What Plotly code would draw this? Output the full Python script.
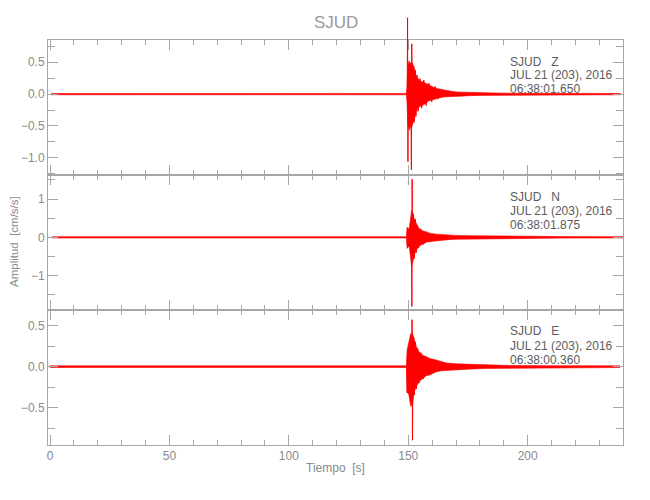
import plotly.graph_objects as go

# ---------------- data ----------------
# Each trace: envelope (upper / lower amplitude vs time) + the individual
# large swings that stand out of the envelope.  Times in s, amplitude cm/s/s.

# Z component
z_env_t = [0.4, 40, 80, 120, 149.2, 149.5, 149.8, 150.3, 150.8, 151.2,
           151.6, 152.0, 152.4, 152.8, 153.4, 154.0, 154.6, 155.3, 156.2, 157.2,
           158.0, 159.0, 160.0, 161.0, 161.8, 163.0, 164.6, 166.5, 168.0, 170.0,
           173.0, 176.0, 180.0, 186.0, 195.0, 210.0, 225.0, 238.9]
z_env_hi = [0.01, 0.011, 0.01, 0.011, 0.011, 0.12, 0.45, 0.52, 0.48, 0.5,
            0.5, 0.45, 0.42, 0.36, 0.27, 0.25, 0.22, 0.2, 0.19, 0.17,
            0.15, 0.14, 0.12, 0.1, 0.09, 0.08, 0.07, 0.055, 0.045, 0.035,
            0.03, 0.026, 0.022, 0.018, 0.014, 0.012, 0.011, 0.01]
z_env_lo = [-0.01, -0.01, -0.011, -0.01, -0.011, -0.15, -0.45, -0.57, -0.5, -0.55,
            -0.5, -0.45, -0.42, -0.36, -0.25, -0.23, -0.2, -0.18, -0.17, -0.15,
            -0.12, -0.1, -0.09, -0.08, -0.07, -0.06, -0.045, -0.04, -0.035, -0.03,
            -0.027, -0.024, -0.02, -0.017, -0.014, -0.012, -0.01, -0.01]
z_spk_t = [149.55, 149.7, 149.85, 150.0, None, 151.15, 151.3, 151.45, 151.6, None,
           152.3, 152.5, 152.9, 153.2, 153.7, 154.1, 154.9, 155.6, 156.5, 157.5,
           158.6, 159.8, 161.2, 162.5]
z_spk_v = [0.0, 1.2, -1.06, 0.2, None, -0.2, -1.19, 0.79, -0.1, None,
           0.45, -0.44, 0.38, -0.35, 0.3, -0.27, 0.24, -0.22, 0.22, -0.18,
           0.17, -0.12, 0.12, -0.08]

# N component
n_env_t = [0.7, 30, 57, 60, 63, 100, 149.2, 149.5, 150.0, 150.4,
           150.9, 151.4, 152.0, 152.7, 153.5, 154.2, 154.8, 156.0, 157.6, 159.0,
           160.4, 162.5, 164.6, 167.0, 170.0, 177.0, 184.0, 192.0, 200.0, 215.0,
           239.9]
n_env_hi = [0.017, 0.018, 0.017, 0.026, 0.017, 0.018, 0.017, 0.27, 0.22, 0.25,
            0.45, 0.7, 0.55, 0.44, 0.35, 0.26, 0.22, 0.17, 0.13, 0.11,
            0.09, 0.08, 0.07, 0.06, 0.05, 0.042, 0.035, 0.03, 0.025, 0.02,
            0.017]
n_env_lo = [-0.017, -0.017, -0.018, -0.027, -0.017, -0.017, -0.017, -0.29, -0.24, -0.25,
            -0.5, -0.77, -0.6, -0.43, -0.32, -0.26, -0.22, -0.17, -0.13, -0.11,
            -0.09, -0.08, -0.07, -0.06, -0.05, -0.042, -0.035, -0.03, -0.025, -0.02,
            -0.017]
n_spk_t = [151.35, 151.5, 151.62, 151.75, None, 152.2, 152.5, 152.9, 153.3, 153.8,
           154.3, 155.2, 156.3, 157.5, 159.0, 160.5, 162.0]
n_spk_v = [0.3, -1.81, 1.52, -0.3, None, 0.62, -0.55, 0.48, -0.4, 0.32,
           -0.28, 0.22, -0.18, 0.15, -0.12, 0.1, -0.08]

# E component
e_env_t = [0.0, 40, 77, 80, 83, 120, 149.2, 149.5, 150.3, 151.0,
           151.8, 152.5, 153.4, 154.5, 156.0, 157.5, 159.0, 160.5, 161.8, 164.0,
           166.0, 170.0, 175.0, 182.0, 190.0, 210.0, 238.6]
e_env_hi = [0.01, 0.011, 0.01, 0.017, 0.01, 0.011, 0.01, 0.2, 0.3, 0.4,
            0.4, 0.32, 0.24, 0.18, 0.14, 0.12, 0.1, 0.09, 0.08, 0.06,
            0.045, 0.035, 0.03, 0.022, 0.016, 0.012, 0.01]
e_env_lo = [-0.01, -0.01, -0.011, -0.017, -0.01, -0.01, -0.01, -0.28, -0.35, -0.48,
            -0.45, -0.3, -0.24, -0.18, -0.14, -0.11, -0.1, -0.08, -0.06, -0.05,
            -0.045, -0.035, -0.03, -0.022, -0.016, -0.012, -0.01]
e_spk_t = [149.45, 149.55, 149.65, None, 151.45, 151.58, 151.75, 151.9, None,
           152.3, 152.6, 153.0, 153.4, 153.9, 154.5, 155.3, 156.2, 157.3, 158.5]
e_spk_v = [0.0, -0.32, 0.1, None, 0.2, 0.57, -0.89, -0.2, None,
           0.36, -0.34, 0.3, -0.27, 0.22, -0.2, 0.17, -0.15, 0.13, -0.1]

components = ["Z", "N", "E"]
start_times = ["06:38:01.650", "06:38:01.875", "06:38:00.360"]
date_label = "JUL 21 (203), 2016"
station = "SJUD"
y_ranges = [[-1.27, 0.85], [-1.90, 1.63], [-0.949, 0.687]]
y_dticks = [0.5, 1.0, 0.5]
y_minor = [0.25, 0.5, 0.25]
y_formats = [".1f", "d", ".1f"]
x_range = [-0.85, 239.9]

envelopes = [(z_env_t, z_env_hi, z_env_lo), (n_env_t, n_env_hi, n_env_lo),
             (e_env_t, e_env_hi, e_env_lo)]
spikes = [(z_spk_t, z_spk_v), (n_spk_t, n_spk_v), (e_spk_t, e_spk_v)]

# ---------------- layout geometry ----------------
W, H = 650, 500
L, R, T, B = 48, 27, 10, 55
pw, ph = W - L - R, H - T - B
panel_px = [(40, 175), (175, 310), (310, 445)]   # top/bottom pixel rows of each panel

def px(xp):
    return (xp - L) / pw

def py(yp):
    return (H - B - yp) / ph

AX = "#a6a6a6"
TXT = "#8a8a8a"
FONT = "Liberation Sans, Arial, sans-serif"
RED = "#ff0000"

fig = go.Figure()
layout = dict(width=W, height=H, margin=dict(l=L, r=R, t=T, b=B),
              paper_bgcolor="white", plot_bgcolor="rgba(0,0,0,0)", showlegend=False)

# invisible full-height x axis used by the unclipped swings
layout["xaxis4"] = dict(domain=[0, 1], range=x_range, visible=False, anchor="y4",
                        showgrid=False, zeroline=False)

for i in range(3):
    n = i + 1
    xs = "" if n == 1 else str(n)
    top_px, bot_px = panel_px[i]
    lo, hi = y_ranges[i]
    layout["yaxis" + xs] = dict(
        domain=[py(bot_px), py(top_px)], anchor="x" + xs,
        range=[lo, hi], dtick=y_dticks[i], tick0=0, tickformat=y_formats[i],
        minor=dict(dtick=y_minor[i], ticklen=7, tickcolor=AX, ticks="inside"),
        ticks="inside", ticklen=10, tickcolor=AX,
        showline=True, linecolor=AX, linewidth=1, mirror="allticks",
        showgrid=False, zeroline=False, automargin=False,
        tickfont=dict(family=FONT, size=12, color=TXT))
    layout["xaxis" + xs] = dict(
        domain=[0, 1], anchor="y" + xs, range=x_range, dtick=50, tick0=0,
        minor=dict(dtick=10, ticklen=5, tickcolor=AX, ticks="inside"),
        ticks="inside", ticklen=10, tickcolor=AX,
        showline=True, linecolor=AX, linewidth=1, mirror="allticks",
        showgrid=False, zeroline=False, automargin=False,
        showticklabels=(n == 3),
        tickfont=dict(family=FONT, size=12, color=TXT))
    # a full-height, invisible axis on the same scale, so big swings are not
    # clipped at the panel edge (as in the original plot)
    scale = (hi - lo) / (bot_px - top_px)
    full = [lo - (H - B - bot_px) * scale, hi + (top_px - T) * scale]
    layout["yaxis" + str(n + 3)] = dict(domain=[0, 1], range=full, visible=False,
                                       anchor="x4", showgrid=False, zeroline=False)

    et, ehi, elo = envelopes[i]
    fig.add_trace(go.Scatter(x=et + et[::-1], y=ehi + elo[::-1], mode="lines",
                             fill="toself", fillcolor=RED,
                             line=dict(color=RED, width=0.6),
                             xaxis="x" + xs, yaxis="y" + xs, hoverinfo="skip"))
    st, sv = spikes[i]
    fig.add_trace(go.Scatter(x=st, y=sv, mode="lines", connectgaps=False,
                             line=dict(color=RED, width=1),
                             xaxis="x4", yaxis="y" + str(n + 3), hoverinfo="skip"))

annotations = []
line_y = [[62, 75.3, 88.5], [196.5, 211.3, 224.7], [331.2, 346.3, 359.7]]
for i, comp in enumerate(components):
    texts = [f"{station}   {comp}", date_label, start_times[i]]
    for j, tx in enumerate(texts):
        annotations.append(dict(x=px(507.5), y=py(line_y[i][j]), xref="paper", yref="paper",
                                text=tx, showarrow=False, xanchor="left", yanchor="middle",
                                font=dict(family=FONT, size=12, color="#5c5c5c")))

annotations.append(dict(x=px(335.5), y=py(22), xref="paper", yref="paper", text=station,
                        showarrow=False, xanchor="center", yanchor="middle",
                        font=dict(family=FONT, size=17, color="#9a9a9a")))
annotations.append(dict(x=px(335.5), y=py(468), xref="paper", yref="paper", text="Tiempo  [s]",
                        showarrow=False, xanchor="center", yanchor="middle",
                        font=dict(family=FONT, size=12, color=TXT)))
annotations.append(dict(x=px(14), y=py(242), xref="paper", yref="paper",
                        text="Amplitud  [cm/s/s]", textangle=-90,
                        showarrow=False, xanchor="center", yanchor="middle",
                        font=dict(family=FONT, size=11.5, color=TXT)))
layout["annotations"] = annotations

fig.update_layout(**layout)
fig.write_html("out.html", config={"displayModeBar": False},
               post_script="document.body.style.margin='0px';document.body.style.padding='0px';")
